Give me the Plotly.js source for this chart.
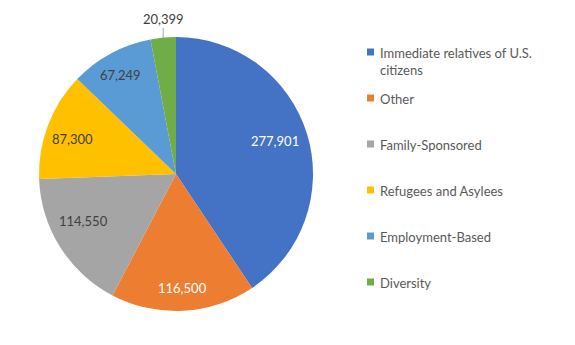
<!DOCTYPE html>
<html><head><meta charset="utf-8">
<script src="https://cdn.plot.ly/plotly-3.0.1.min.js"></script>
<style>html,body{margin:0;padding:0;background:#fff}#chart{width:575px;height:345px}</style>
</head><body><div id="chart"></div>
<script>
const categories = ["Immediate relatives of U.S. citizens","Other","Family-Sponsored","Refugees and Asylees","Employment-Based","Diversity"];
const legendLabels = ["Immediate relatives of U.S.<br>citizens","Other","Family-Sponsored","Refugees and Asylees","Employment-Based","Diversity"];
const values = [277901,116500,114550,87300,67249,20399];
const colors = ["#4472C4","#ED7D31","#A5A5A5","#FFC000","#5B9BD5","#70AD47"];
const textColors = ["#ffffff","#ffffff","#404040","#404040","#404040","#404040"];

// label placement style (Excel "best fit" look)
const labelRadius = [0.76, 0.83, 0.76, 0.80, 0.83, 1.0];
const labelAngleShift = [-1.5, 0, 5.5, -2.3, -0.6, 0];
const outsideLabel = [false, false, false, false, false, true];

const W = 575, H = 345;
const px0 = 39, px1 = 313, py0 = 37, py1 = 311;
const cx = (px0 + px1) / 2, cy = (py0 + py1) / 2, R = (px1 - px0) / 2;

const font = "Lato, 'Open Sans', sans-serif";
const trace = {
  type: "pie",
  labels: categories,
  values: values,
  sort: false,
  direction: "clockwise",
  rotation: 0,
  marker: {colors: colors, line: {width: 0}},
  textinfo: "none",
  hoverinfo: "none",
  showlegend: false,
  domain: {x: [px0/W, px1/W], y: [1-py1/H, 1-py0/H]}
};

const shapes = [], annotations = [];
const total = values.reduce((a, b) => a + b, 0);
let cum = 0;
values.forEach((v, i) => {
  const mid = (cum + v / 2) / total;
  cum += v;
  const th = (mid * 360 + labelAngleShift[i]) * Math.PI / 180;
  const r = R * labelRadius[i];
  const x = cx + r * Math.sin(th), y = cy - r * Math.cos(th);
  const txt = v.toLocaleString("en-US");
  if (outsideLabel[i]) {
    annotations.push({xref: "paper", yref: "paper", x: x/W, y: 1-y/H,
      text: txt, showarrow: true, arrowhead: 0, arrowwidth: 1, arrowcolor: "#a6a6a6",
      ax: 0, ay: -19, standoff: 0,
      font: {family: font, size: 13, color: textColors[i]}});
  } else {
    annotations.push({xref: "paper", yref: "paper", x: x/W, y: 1-y/H,
      xanchor: "center", yanchor: "middle", showarrow: false, text: txt,
      font: {family: font, size: 13, color: textColors[i]}});
  }
});

const legendTop = [52, 98, 144, 190, 236, 282];
categories.forEach((c, i) => {
  const y = legendTop[i];
  shapes.push({type: "rect", xref: "paper", yref: "paper",
    x0: 367/W, x1: 374/W, y0: 1-(y+3.5)/H, y1: 1-(y-3.5)/H,
    fillcolor: colors[i], line: {width: 0}});
  annotations.push({xref: "paper", yref: "paper", x: 378/W, y: 1-(y-9)/H,
    xanchor: "left", yanchor: "top", align: "left", showarrow: false,
    text: legendLabels[i], font: {family: font, size: 13, color: "#595959"}});
});

const layout = {
  width: W, height: H,
  margin: {l: 0, r: 0, t: 0, b: 0},
  paper_bgcolor: "#fff",
  showlegend: false,
  shapes: shapes,
  annotations: annotations
};
Plotly.newPlot("chart", [trace], layout, {staticPlot: true, displayModeBar: false});
</script></body></html>
